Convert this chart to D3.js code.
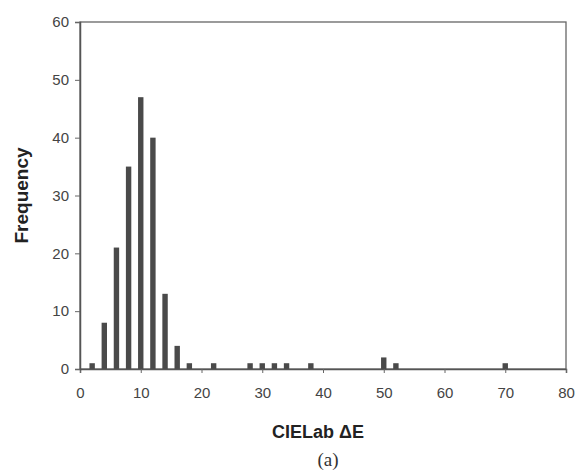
<!DOCTYPE html>
<html><head><meta charset="utf-8">
<script src="https://cdn.jsdelivr.net/npm/d3@7"></script>
<style>body{margin:0;background:#fff}</style>
</head><body>
<script>
const deltaE = [2,4,6,8,10,12,14,16,18,22,28,30,32,34,38,50,52,70];
const frequency = [1,8,21,35,47,40,13,4,1,1,1,1,1,1,1,2,1,1];
const xTicks = [0,10,20,30,40,50,60,70,80];
const yTicks = [0,10,20,30,40,50,60];

const W=581,H=472;
const m={l:80,r:15,t:22,b:103};
const svg=d3.select("body").append("svg").attr("width",W).attr("height",H);
const x=d3.scaleLinear().domain([0,80]).range([m.l,W-m.r]);
const y=d3.scaleLinear().domain([0,60]).range([H-m.b,m.t]);

// box
svg.append("rect").attr("x",m.l).attr("y",m.t).attr("width",W-m.r-m.l).attr("height",H-m.b-m.t)
  .attr("fill","none").attr("stroke","#666").attr("stroke-width",1.3);

svg.selectAll("rect.bar").data(deltaE).join("rect").attr("class","bar")
  .attr("x",(d)=>x(d)-2.7).attr("width",5.4)
  .attr("y",(d,i)=>y(frequency[i])).attr("height",(d,i)=>y(0)-y(frequency[i]))
  .attr("fill","#4a4a4a");

const xa=svg.append("g").attr("transform",`translate(0,${y(0)})`)
  .call(d3.axisBottom(x).tickValues(xTicks).tickSize(4).tickPadding(14));
const ya=svg.append("g").attr("transform",`translate(${m.l},0)`)
  .call(d3.axisLeft(y).tickValues(yTicks).tickSize(5).tickPadding(6));
[xa,ya].forEach(a=>{
  a.select(".domain").attr("stroke","#555").attr("stroke-width",1.5);
  a.selectAll(".tick line").attr("stroke","#666");
  a.selectAll("text").attr("font-family","Liberation Sans, Arial, sans-serif").attr("font-size",15).attr("fill","#444");
});

svg.append("text").attr("x",318).attr("y",438).attr("text-anchor","middle")
  .attr("font-family","Liberation Sans, Arial, sans-serif").attr("font-weight","bold").attr("font-size",18).attr("fill","#222")
  .text("CIELab ΔE");
svg.append("text").attr("transform",`translate(28,${(m.t+H-m.b)/2}) rotate(-90)`).attr("text-anchor","middle")
  .attr("font-family","Liberation Sans, Arial, sans-serif").attr("font-weight","bold").attr("font-size",19).attr("fill","#222")
  .text("Frequency");
svg.append("text").attr("x",328).attr("y",466).attr("text-anchor","middle")
  .attr("font-family","Liberation Serif, Times New Roman, serif").attr("font-size",19).attr("fill","#333")
  .text("(a)");
</script>
</body></html>
